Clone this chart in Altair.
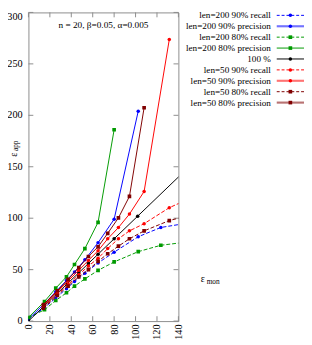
import altair as alt
import pandas as pd

SERIF = "Liberation Serif"
GREY = "#8c8c8c"

# ---- data ----
X_TICKS = [0, 20, 40, 60, 80, 100, 120, 140]
Y_TICKS = [0, 50, 100, 150, 200, 250, 300]

X200 = [0, 15, 25.5, 35.5, 43, 52.7, 65, 80, 102.5, 123.6, 165]
B90_R = [2, 13, 22.5, 31.5, 38.4, 46.5, 56.5, 67, 82, 91, 98]
B90_P = [2, 17, 28.5, 39.5, 47.8, 59.6, 76.2, 99, 204]
G80_R = [3.5, 11, 20, 27.5, 34, 41, 49.3, 57.5, 67.5, 73.7, 79]
G80_P = [3.5, 19, 32, 43, 55, 70.5, 96, 186]

XB = [0, 15, 26, 36, 47, 56, 65, 80, 102, 165]
YB = [0, 15, 26, 36, 47, 56, 65, 80, 102, 165]

X50 = [14, 27, 37, 47, 56, 65, 74, 84, 94.3, 108, 131.5, 165]
R90_R = [13.5, 26, 35.5, 45, 53.5, 61, 70.5, 80, 87.7, 94.7, 110.2, 126]
R90_P = [15, 28.5, 39, 49.5, 59, 68.4, 80, 90.9, 104, 126, 273.7]
M80_R = [12.5, 25, 34, 43, 50, 58, 65.5, 72.8, 80, 87.7, 97.7, 106.7]
M80_P = [16, 29.5, 40.5, 52, 62.8, 72.2, 85.3, 100.3, 121.2, 207.4]

LABELS = [
    "len=200 90% recall", "len=200 90% precision",
    "len=200 80% recall", "len=200 80% precision",
    "100 %",
    "len=50 90% recall", "len=50 90% precision",
    "len=50 80% recall", "len=50 80% precision",
]
TITLE = "n = 20, β=0.05, α=0.005"

BLUE, GREEN, BLACK, RED, BROWN = "#0000ff", "#009a00", "#000000", "#ff0000", "#800000"

SERIES = [
    (LABELS[0], X200, B90_R, BLUE, True, "circle"),
    (LABELS[1], X200, B90_P, BLUE, False, "circle"),
    (LABELS[2], X200, G80_R, GREEN, True, "square"),
    (LABELS[3], X200, G80_P, GREEN, False, "square"),
    (LABELS[4], XB, YB, BLACK, False, "circle"),
    (LABELS[5], X50, R90_R, RED, True, "circle"),
    (LABELS[6], X50, R90_P, RED, False, "circle"),
    (LABELS[7], X50, M80_R, BROWN, True, "square"),
    (LABELS[8], X50, M80_P, BROWN, False, "square"),
]

W, H = 154, 317
DASH = [4, 2]

xaxis = alt.Axis(values=X_TICKS, labelAngle=270, labelFont=SERIF, labelFontSize=10.5,
                 labelColor="black", ticks=False, domain=False, grid=False, title=None,
                 labelPadding=3, labelFlush=False, labelOverlap=False)
X = alt.X("x:Q", scale=alt.Scale(domain=[0, 140], nice=False, zero=False), axis=xaxis)
Y = alt.Y("y:Q", scale=alt.Scale(domain=[0, 300], nice=False, zero=False), axis=None)

one = pd.DataFrame({"k": [0]})
layers = []

# inward ticks on all four sides
xt = pd.DataFrame({"x": X_TICKS})
yt = pd.DataFrame({"y": Y_TICKS})
layers.append(alt.Chart(yt).mark_rule(color=GREY).encode(y=Y, x=alt.value(0), x2=alt.value(5)))
layers.append(alt.Chart(yt).mark_rule(color=GREY).encode(y=Y, x=alt.value(W - 5), x2=alt.value(W)))
layers.append(alt.Chart(xt).mark_rule(color=GREY).encode(x=X, y=alt.value(H - 5), y2=alt.value(H)))
layers.append(alt.Chart(xt).mark_rule(color=GREY).encode(x=X, y=alt.value(0), y2=alt.value(5)))

# y tick labels (top one nudged down so it is not cut by the page edge)
yt_low = pd.DataFrame({"y": Y_TICKS[:-1]})
yt_top = pd.DataFrame({"y": Y_TICKS[-1:]})
for d, dy in ((yt_low, 0), (yt_top, 5)):
    layers.append(alt.Chart(d).mark_text(align="right", baseline="middle", font=SERIF,
                                         fontSize=10.5, color="black", dy=dy)
                  .encode(y=Y, x=alt.value(-6), text=alt.Text("y:Q", format="d")))

# data series
for label, xs, ys, col, dashed, shape in SERIES:
    df = pd.DataFrame({"x": xs[:len(ys)], "y": ys})
    lkw = dict(clip=True, color=col, strokeWidth=1)
    if dashed:
        lkw["strokeDash"] = DASH
    layers.append(alt.Chart(df).mark_line(**lkw).encode(x=X, y=Y))
    size = 14 if shape == "square" else 13
    layers.append(alt.Chart(df).mark_point(clip=True, filled=True, shape=shape, size=size,
                                           color=col, opacity=1).encode(x=X, y=Y))

# legend (manual, gnuplot-like: text right aligned, sample to the right)
for i, (label, xs, ys, col, dashed, shape) in enumerate(SERIES):
    ly = 3 + 11.2 * i
    layers.append(alt.Chart(one).mark_text(text=label, align="right", baseline="middle",
                                           font=SERIF, fontSize=9.4, color="black")
                  .encode(x=alt.value(249), y=alt.value(ly)))
    rkw = dict(color=col, strokeWidth=1)
    if dashed:
        rkw["strokeDash"] = [3, 2]
    elif label != "100 %" and col != GREEN:
        rkw["strokeWidth"] = 2.2
        rkw["opacity"] = 0.55
    layers.append(alt.Chart(one).mark_rule(**rkw)
                  .encode(x=alt.value(255), x2=alt.value(283), y=alt.value(ly)))
    size = 14 if shape == "square" else 13
    layers.append(alt.Chart(one).mark_point(filled=True, shape=shape, size=size, color=col, opacity=1)
                  .encode(x=alt.value(269), y=alt.value(ly)))

# title inside plot
layers.append(alt.Chart(one).mark_text(text=TITLE, align="center", baseline="middle",
                                       font=SERIF, fontSize=9.5, color="black")
              .encode(x=alt.value(77), y=alt.value(13)))

# y axis title  ε_app
layers.append(alt.Chart(one).mark_text(text="ε", angle=270, align="center", baseline="middle",
                                       font=SERIF, fontSize=10, color="black")
              .encode(x=alt.value(-15), y=alt.value(146)))
layers.append(alt.Chart(one).mark_text(text="app", angle=270, align="center", baseline="middle",
                                       font=SERIF, fontSize=7.5, color="black")
              .encode(x=alt.value(-12.5), y=alt.value(137)))

# x axis title  ε_mon
layers.append(alt.Chart(one).mark_text(text="ε", align="center", baseline="middle",
                                       font=SERIF, fontSize=10, color="black")
              .encode(x=alt.value(179), y=alt.value(274)))
layers.append(alt.Chart(one).mark_text(text="mon", align="left", baseline="middle",
                                       font=SERIF, fontSize=7.5, color="black")
              .encode(x=alt.value(183), y=alt.value(277)))

chart = alt.layer(*layers).properties(
    width=W, height=H,
    autosize=alt.AutoSizeParams(type="none"),
    padding={"left": 21, "top": 0, "right": 129, "bottom": 20},
).configure_view(stroke=GREY, strokeWidth=1)

chart.save("out.html", embed_options={"renderer": "svg", "actions": False})
